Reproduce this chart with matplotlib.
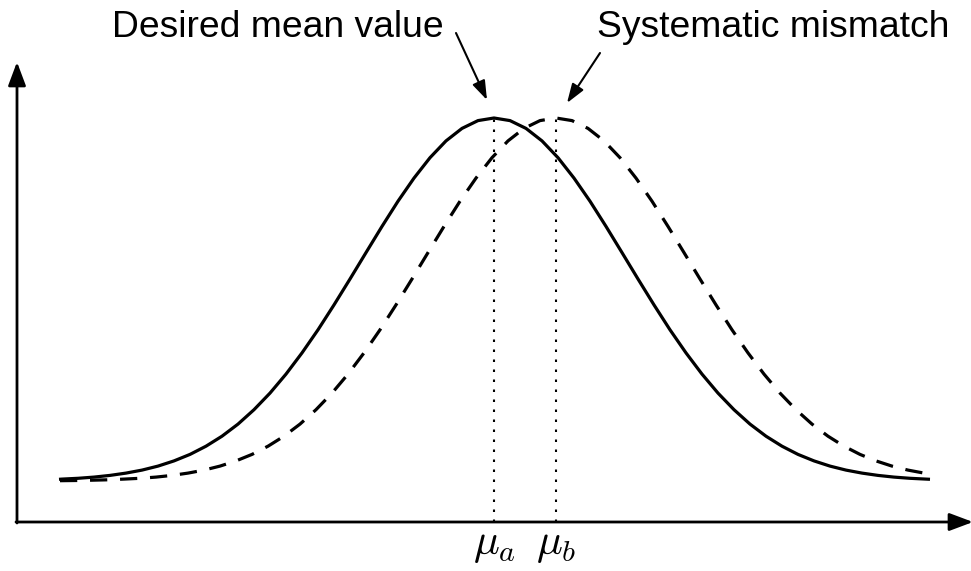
import matplotlib
matplotlib.use("Agg")
import matplotlib.pyplot as plt

plt.rcParams['mathtext.fontset'] = 'cm'
plt.rcParams['font.family'] = ['Liberation Sans', 'DejaVu Sans']

# desired distribution (solid)
x_a = [42, 45, 61, 77, 93, 109, 125, 141, 157, 173, 189, 205, 221, 237, 253, 269,
       285, 301, 317, 333, 349, 365, 381, 397, 413, 429, 445, 461, 477, 493, 509,
       525, 541, 557, 573, 589, 605, 621, 637, 653, 669, 685, 701, 717, 733, 749,
       765, 781, 797, 813, 829, 845, 861, 877, 893, 909, 913]
y_a = [42.7, 42.9, 43.7, 44.9, 46.6, 48.9, 51.9, 55.9, 61.1, 67.6, 75.8, 85.8,
       97.9, 112.3, 128.9, 147.9, 169.1, 192.2, 217.1, 243.0, 269.4, 295.6, 320.8,
       343.9, 364.3, 381.1, 393.6, 401.4, 404.0, 401.4, 393.6, 381.1, 364.3, 343.9,
       320.8, 295.6, 269.4, 243.0, 217.1, 192.2, 169.1, 147.9, 128.9, 112.3, 97.9,
       85.8, 75.8, 67.6, 61.1, 55.9, 51.9, 48.9, 46.6, 44.9, 43.7, 42.9, 42.7]

# shifted distribution (dashed)
x_b = [43, 59, 75, 91, 107, 123, 139, 155, 171, 187, 203, 219, 235, 251, 267, 283,
       299, 315, 331, 347, 363, 379, 395, 411, 427, 443, 459, 475, 491, 507, 523,
       539, 555, 571, 587, 603, 619, 635, 651, 667, 683, 699, 715, 731, 747, 763,
       779, 795, 811, 827, 843, 859, 875, 891, 907, 913]
y_b = [41.3, 41.5, 41.8, 42.2, 42.9, 43.7, 44.9, 46.6, 48.9, 51.9, 55.9, 61.1,
       67.6, 75.8, 85.8, 97.9, 112.3, 128.9, 147.9, 169.1, 192.2, 217.1, 243.0,
       269.4, 295.6, 320.8, 343.9, 364.3, 381.1, 393.6, 401.4, 404.0, 401.4, 393.6,
       381.1, 364.3, 343.9, 320.8, 295.6, 269.4, 243.0, 217.1, 192.2, 169.1, 147.9,
       128.9, 112.3, 97.9, 85.8, 75.8, 67.6, 61.1, 55.9, 51.9, 48.9, 48.0]

mu_pos = [477, 539]
mu_labels = [r'$\mu_a$', r'$\mu_b$']
peaks = [max(y_a), max(y_b)]

fig = plt.figure(figsize=(9.71, 5.71), dpi=100)
ax = fig.add_axes([0, 0, 1, 1])
ax.set_xlim(-17, 954)
ax.set_ylim(-49, 522)
ax.axis('off')

# axes drawn as arrows
axis_arrow = dict(arrowstyle='-|>,head_length=0.72,head_width=0.27', lw=2,
                  color='black', mutation_scale=20, shrinkA=0, shrinkB=0)
ax.annotate('', xy=(0, 460), xytext=(0, -1), arrowprops=axis_arrow)
ax.annotate('', xy=(956, 0), xytext=(-1, 0), arrowprops=axis_arrow,
            annotation_clip=False)

ax.plot(x_a, y_a, color='black', lw=2.3, solid_capstyle='butt')
ax.plot(x_b, y_b, color='black', lw=2.3, linestyle=(0, (5.4, 4.0)))

for m, p, lab in zip(mu_pos, peaks, mu_labels):
    ax.vlines(m, 0, p, colors='black', lw=1.5, linestyles=(0, (1.2, 3.6)))
    ax.text(m, -32, lab, ha='center', va='baseline', fontsize=31)

# callouts
pointer = dict(arrowstyle='-|>,head_length=0.58,head_width=0.2', lw=1.5,
               color='black', mutation_scale=20, shrinkA=0, shrinkB=0)
ax.text(95, 485, 'Desired mean value', ha='left', va='baseline', fontsize=26.8)
ax.annotate('', xy=(470, 422), xytext=(439, 489), arrowprops=pointer)
ax.text(580, 485, 'Systematic mismatch', ha='left', va='baseline', fontsize=26.8)
ax.annotate('', xy=(550, 419), xytext=(583, 469), arrowprops=pointer)

fig.savefig('out.png', dpi=100)
